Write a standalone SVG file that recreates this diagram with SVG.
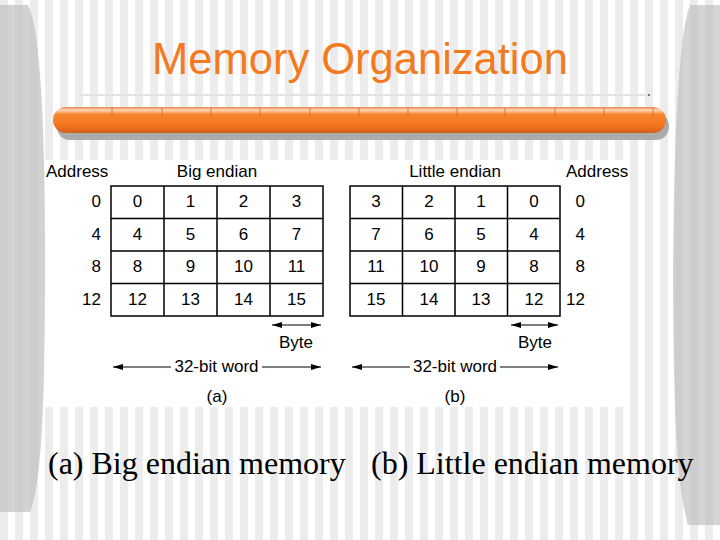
<svg xmlns="http://www.w3.org/2000/svg" width="720" height="540" viewBox="0 0 720 540">
<defs>
<pattern id="stripes" x="0" y="0" width="15" height="10" patternUnits="userSpaceOnUse">
<rect x="0" y="0" width="8" height="10" fill="#ECECEC"/>
</pattern>
<pattern id="darkstripes" x="0" y="0" width="15" height="10" patternUnits="userSpaceOnUse">
<rect x="0" y="0" width="8" height="10" fill="#C9C9C9"/>
</pattern>
<linearGradient id="barGrad" x1="0" y1="0" x2="0" y2="1">
<stop offset="0" stop-color="#E8864A"/>
<stop offset="0.12" stop-color="#FDD6B8"/>
<stop offset="0.28" stop-color="#F6862E"/>
<stop offset="0.7" stop-color="#F47420"/>
<stop offset="1" stop-color="#D2601A"/>
</linearGradient>
<marker id="ah" viewBox="0 0 10 6" refX="10" refY="3" markerWidth="10" markerHeight="6" markerUnits="userSpaceOnUse" orient="auto-start-reverse">
<path d="M0,0 L10,3 L0,6 z" fill="#000"/>
</marker>
<style>
.t{font-family:"Liberation Sans",Arial,sans-serif;font-size:17px;fill:#000}
.c{text-anchor:middle}
.r{text-anchor:end}
.cell{fill:#fff;stroke:#000;stroke-width:1.5}
.grid{stroke:#000;stroke-width:1.5;fill:none}
.arr{stroke:#000;stroke-width:1;fill:none}
.cap{font-family:"Liberation Serif","Times New Roman",serif;font-size:32px;fill:#000}
</style>
</defs>

<g id="background">
<rect x="0" y="0" width="720" height="540" fill="#fff"/>
<rect x="0" y="0" width="720" height="540" fill="url(#stripes)"/>
<path d="M0,5 L28,5 C40,30 45,120 45,260 C45,400 42,480 30,512 L0,512 Z" fill="#D2D2D2"/>
<path d="M0,5 L28,5 C40,30 45,120 45,260 C45,400 42,480 30,512 L0,512 Z" fill="url(#darkstripes)" opacity="0.6"/>
<path d="M720,5 L690,5 C680,30 674,120 673,270 C673,420 678,490 688,525 L720,525 Z" fill="#D4D4D4"/>
<path d="M720,5 L690,5 C680,30 674,120 673,270 C673,420 678,490 688,525 L720,525 Z" fill="url(#darkstripes)" opacity="0.6"/>
</g>

<g id="title">
<text x="360" y="74" text-anchor="middle" font-family="'Liberation Sans',Arial,sans-serif" font-size="43.5" fill="#F47A20">Memory Organization</text>
</g>

<g id="title-bar">
<line x1="80" y1="95" x2="648" y2="95" stroke="#E2E2E2" stroke-width="2"/>
<rect x="648" y="94" width="2" height="2" fill="#777"/>
<rect x="57" y="113" width="612" height="27" rx="13" fill="#ABABAB"/>
<rect x="53" y="107" width="613" height="26" rx="13" fill="url(#barGrad)"/>
<g stroke="#C86A30" stroke-width="0.8">
<line x1="112" y1="108" x2="112" y2="116"/>
<line x1="162" y1="108" x2="162" y2="116"/>
<line x1="211" y1="108" x2="211" y2="116"/>
<line x1="260" y1="108" x2="260" y2="116"/>
<line x1="310" y1="108" x2="310" y2="116"/>
<line x1="359" y1="108" x2="359" y2="116"/>
<line x1="408" y1="108" x2="408" y2="116"/>
<line x1="457" y1="108" x2="457" y2="116"/>
<line x1="505" y1="108" x2="505" y2="116"/>
<line x1="555" y1="108" x2="555" y2="116"/>
<line x1="604" y1="108" x2="604" y2="116"/>
<line x1="653" y1="108" x2="653" y2="116"/>
</g>
</g>

<g id="figure-panel">
<rect x="45" y="160" width="583" height="247" fill="#fff"/>
</g>

<g id="big-endian">
<text class="t" x="46" y="177">Address</text>
<text class="t c" x="217" y="177">Big endian</text>
<rect class="cell" x="111" y="186" width="212" height="130"/>
<path class="grid" d="M164,186 V316 M217,186 V316 M270,186 V316 M111,218.5 H323 M111,251 H323 M111,283.5 H323"/>
<text class="t r" x="101" y="207">0</text>
<text class="t r" x="101" y="240">4</text>
<text class="t r" x="101" y="272">8</text>
<text class="t r" x="101" y="305">12</text>
<text class="t c" x="137.5" y="207">0</text>
<text class="t c" x="190.5" y="207">1</text>
<text class="t c" x="243.5" y="207">2</text>
<text class="t c" x="296.5" y="207">3</text>
<text class="t c" x="137.5" y="240">4</text>
<text class="t c" x="190.5" y="240">5</text>
<text class="t c" x="243.5" y="240">6</text>
<text class="t c" x="296.5" y="240">7</text>
<text class="t c" x="137.5" y="272">8</text>
<text class="t c" x="190.5" y="272">9</text>
<text class="t c" x="243.5" y="272">10</text>
<text class="t c" x="296.5" y="272">11</text>
<text class="t c" x="137.5" y="305">12</text>
<text class="t c" x="190.5" y="305">13</text>
<text class="t c" x="243.5" y="305">14</text>
<text class="t c" x="296.5" y="305">15</text>
<text class="t c" x="296" y="348">Byte</text>
<text class="t c" x="216.5" y="372">32-bit word</text>
<text class="t c" x="217" y="402">(a)</text>
</g>

<g id="little-endian">
<text class="t c" x="455" y="177">Little endian</text>
<text class="t" x="566" y="177">Address</text>
<rect class="cell" x="350" y="186" width="210" height="130"/>
<path class="grid" d="M402.5,186 V316 M455,186 V316 M507.5,186 V316 M350,218.5 H560 M350,251 H560 M350,283.5 H560"/>
<text class="t c" x="376" y="207">3</text>
<text class="t c" x="429" y="207">2</text>
<text class="t c" x="481" y="207">1</text>
<text class="t c" x="534" y="207">0</text>
<text class="t c" x="376" y="240">7</text>
<text class="t c" x="429" y="240">6</text>
<text class="t c" x="481" y="240">5</text>
<text class="t c" x="534" y="240">4</text>
<text class="t c" x="376" y="272">11</text>
<text class="t c" x="429" y="272">10</text>
<text class="t c" x="481" y="272">9</text>
<text class="t c" x="534" y="272">8</text>
<text class="t c" x="376" y="305">15</text>
<text class="t c" x="429" y="305">14</text>
<text class="t c" x="481" y="305">13</text>
<text class="t c" x="534" y="305">12</text>
<text class="t r" x="585" y="207">0</text>
<text class="t r" x="585" y="240">4</text>
<text class="t r" x="585" y="272">8</text>
<text class="t r" x="585" y="305">12</text>
<text class="t c" x="535" y="348">Byte</text>
<text class="t c" x="455" y="372">32-bit word</text>
<text class="t c" x="455" y="402">(b)</text>
</g>

<g id="connectors">
<line class="arr" x1="272" y1="325" x2="321" y2="325" marker-start="url(#ah)" marker-end="url(#ah)"/>
<line class="arr" x1="113" y1="367" x2="171" y2="367" marker-start="url(#ah)"/>
<line class="arr" x1="262" y1="367" x2="321" y2="367" marker-end="url(#ah)"/>
<line class="arr" x1="511" y1="325" x2="558" y2="325" marker-start="url(#ah)" marker-end="url(#ah)"/>
<line class="arr" x1="352" y1="367" x2="410" y2="367" marker-start="url(#ah)"/>
<line class="arr" x1="500" y1="367" x2="558" y2="367" marker-end="url(#ah)"/>
</g>

<g id="caption">
<text class="cap" x="48" y="474">(a) Big endian memory</text>
<text class="cap" x="371" y="474">(b) Little endian memory</text>
</g>
</svg>
